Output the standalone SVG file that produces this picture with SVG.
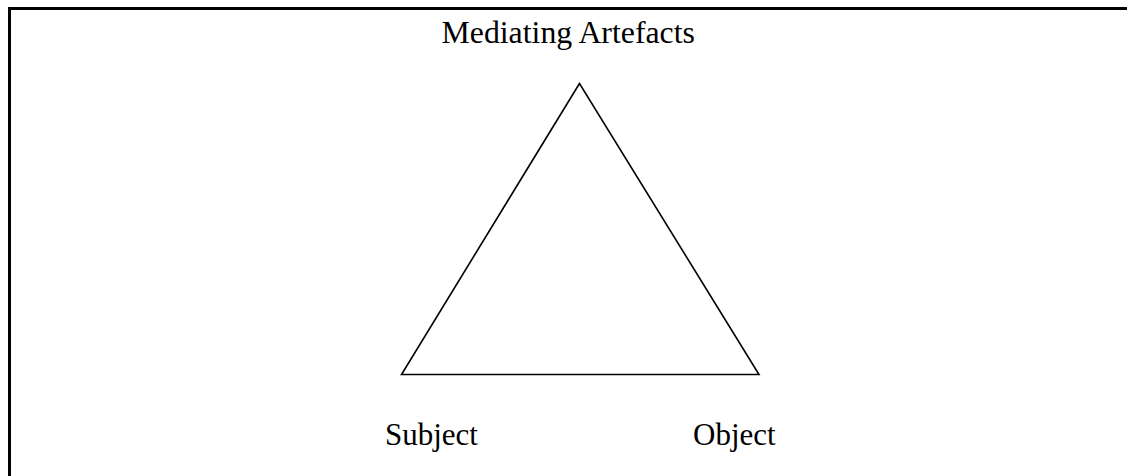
<svg xmlns="http://www.w3.org/2000/svg" width="1127" height="476" viewBox="0 0 1127 476">
<style>
.lbl{font-family:"Liberation Serif","Times New Roman",serif;font-size:31px;fill:#000}
.frame{stroke:#000;stroke-width:3;fill:none}
.edge{stroke:#000;stroke-width:1.6;fill:none;stroke-linejoin:miter}
</style>
<rect width="1127" height="476" fill="#fff"/>
<g id="frame">
<path class="frame" d="M9.5,476 V8.5 H1127"/>
</g>
<g id="connectors">
<path class="edge" d="M579.5,83.5 L401.5,374.5 L759,374.5 Z"/>
</g>
<g id="node-mediating"><text class="lbl" x="441.5" y="43" style="font-size:31.8px">Mediating Artefacts</text></g>
<g id="node-subject"><text class="lbl" x="385" y="445">Subject</text></g>
<g id="node-object"><text class="lbl" x="693" y="445">Object</text></g>
</svg>
